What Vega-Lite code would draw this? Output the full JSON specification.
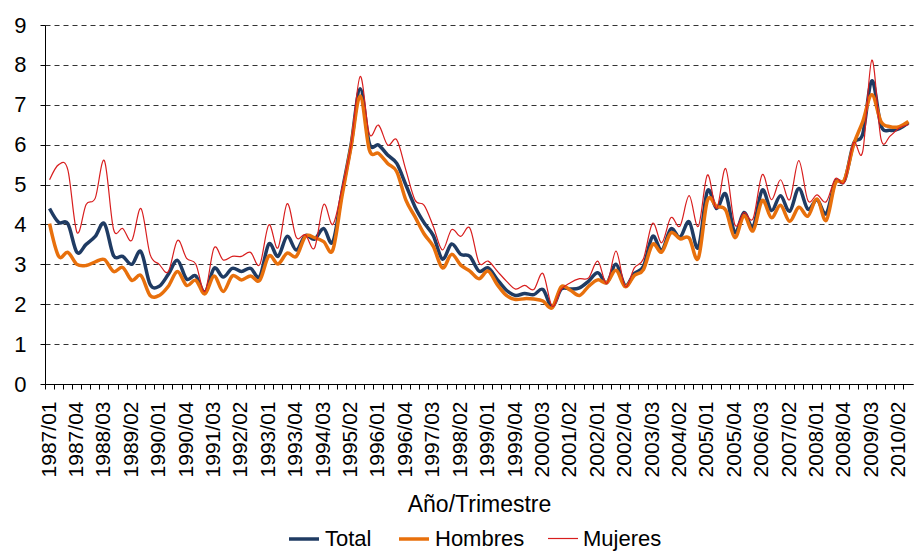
{
  "$schema": "https://vega.github.io/schema/vega-lite/v6.json",
  "width": 868,
  "height": 359,
  "autosize": {"type": "none"},
  "padding": {"left": 45, "top": 25, "right": 2, "bottom": 168},
  "background": "white",
  "data": {
    "values": [
      {"q": "1987/01", "Total": 4.40, "Hombres": 4.02, "Mujeres": 5.12},
      {"q": "1987/02", "Total": 4.05, "Hombres": 3.20, "Mujeres": 5.50},
      {"q": "1987/03", "Total": 4.02, "Hombres": 3.30, "Mujeres": 5.37},
      {"q": "1987/04", "Total": 3.30, "Hombres": 3.00, "Mujeres": 3.80},
      {"q": "1988/01", "Total": 3.50, "Hombres": 2.97, "Mujeres": 4.50},
      {"q": "1988/02", "Total": 3.70, "Hombres": 3.06, "Mujeres": 4.66},
      {"q": "1988/03", "Total": 4.02, "Hombres": 3.12, "Mujeres": 5.60},
      {"q": "1988/04", "Total": 3.22, "Hombres": 2.82, "Mujeres": 3.88},
      {"q": "1989/01", "Total": 3.20, "Hombres": 2.92, "Mujeres": 3.90},
      {"q": "1989/02", "Total": 3.00, "Hombres": 2.60, "Mujeres": 3.60},
      {"q": "1989/03", "Total": 3.32, "Hombres": 2.72, "Mujeres": 4.40},
      {"q": "1989/04", "Total": 2.50, "Hombres": 2.22, "Mujeres": 3.25},
      {"q": "1990/01", "Total": 2.45, "Hombres": 2.22, "Mujeres": 3.00},
      {"q": "1990/02", "Total": 2.75, "Hombres": 2.45, "Mujeres": 2.82},
      {"q": "1990/03", "Total": 3.10, "Hombres": 2.82, "Mujeres": 3.60},
      {"q": "1990/04", "Total": 2.63, "Hombres": 2.47, "Mujeres": 3.15},
      {"q": "1991/01", "Total": 2.71, "Hombres": 2.60, "Mujeres": 3.01},
      {"q": "1991/02", "Total": 2.29, "Hombres": 2.26, "Mujeres": 2.32},
      {"q": "1991/03", "Total": 2.90, "Hombres": 2.71, "Mujeres": 3.41},
      {"q": "1991/04", "Total": 2.68, "Hombres": 2.32, "Mujeres": 3.11},
      {"q": "1992/01", "Total": 2.90, "Hombres": 2.71, "Mujeres": 3.20},
      {"q": "1992/02", "Total": 2.82, "Hombres": 2.61, "Mujeres": 3.20},
      {"q": "1992/03", "Total": 2.90, "Hombres": 2.71, "Mujeres": 3.30},
      {"q": "1992/04", "Total": 2.69, "Hombres": 2.60, "Mujeres": 2.99},
      {"q": "1993/01", "Total": 3.51, "Hombres": 3.21, "Mujeres": 3.99},
      {"q": "1993/02", "Total": 3.20, "Hombres": 3.01, "Mujeres": 3.41},
      {"q": "1993/03", "Total": 3.70, "Hombres": 3.28, "Mujeres": 4.52},
      {"q": "1993/04", "Total": 3.36, "Hombres": 3.20, "Mujeres": 3.68},
      {"q": "1994/01", "Total": 3.72, "Hombres": 3.70, "Mujeres": 3.74},
      {"q": "1994/02", "Total": 3.63, "Hombres": 3.67, "Mujeres": 3.41},
      {"q": "1994/03", "Total": 3.90, "Hombres": 3.57, "Mujeres": 4.50},
      {"q": "1994/04", "Total": 3.56, "Hombres": 3.36, "Mujeres": 4.00},
      {"q": "1995/01", "Total": 4.80, "Hombres": 4.70, "Mujeres": 4.90},
      {"q": "1995/02", "Total": 6.00, "Hombres": 5.95, "Mujeres": 6.00},
      {"q": "1995/03", "Total": 7.40, "Hombres": 7.22, "Mujeres": 7.71},
      {"q": "1995/04", "Total": 6.03, "Hombres": 5.87, "Mujeres": 6.27},
      {"q": "1996/01", "Total": 5.99, "Hombres": 5.78, "Mujeres": 6.49},
      {"q": "1996/02", "Total": 5.74, "Hombres": 5.53, "Mujeres": 5.99},
      {"q": "1996/03", "Total": 5.53, "Hombres": 5.32, "Mujeres": 6.12},
      {"q": "1996/04", "Total": 4.99, "Hombres": 4.61, "Mujeres": 5.36},
      {"q": "1997/01", "Total": 4.44, "Hombres": 4.19, "Mujeres": 4.61},
      {"q": "1997/02", "Total": 4.04, "Hombres": 3.76, "Mujeres": 4.48},
      {"q": "1997/03", "Total": 3.72, "Hombres": 3.45, "Mujeres": 3.95},
      {"q": "1997/04", "Total": 3.13, "Hombres": 2.91, "Mujeres": 3.36},
      {"q": "1998/01", "Total": 3.51, "Hombres": 3.25, "Mujeres": 3.87},
      {"q": "1998/02", "Total": 3.25, "Hombres": 2.98, "Mujeres": 3.70},
      {"q": "1998/03", "Total": 3.20, "Hombres": 2.83, "Mujeres": 3.91},
      {"q": "1998/04", "Total": 2.83, "Hombres": 2.64, "Mujeres": 3.04},
      {"q": "1999/01", "Total": 2.91, "Hombres": 2.83, "Mujeres": 3.08},
      {"q": "1999/02", "Total": 2.62, "Hombres": 2.49, "Mujeres": 2.83},
      {"q": "1999/03", "Total": 2.35, "Hombres": 2.22, "Mujeres": 2.58},
      {"q": "1999/04", "Total": 2.22, "Hombres": 2.12, "Mujeres": 2.38},
      {"q": "2000/01", "Total": 2.27, "Hombres": 2.14, "Mujeres": 2.47},
      {"q": "2000/02", "Total": 2.24, "Hombres": 2.13, "Mujeres": 2.37},
      {"q": "2000/03", "Total": 2.37, "Hombres": 2.08, "Mujeres": 2.77},
      {"q": "2000/04", "Total": 1.93, "Hombres": 1.91, "Mujeres": 1.95},
      {"q": "2001/01", "Total": 2.38, "Hombres": 2.44, "Mujeres": 2.37},
      {"q": "2001/02", "Total": 2.38, "Hombres": 2.35, "Mujeres": 2.54},
      {"q": "2001/03", "Total": 2.41, "Hombres": 2.22, "Mujeres": 2.64},
      {"q": "2001/04", "Total": 2.58, "Hombres": 2.45, "Mujeres": 2.66},
      {"q": "2002/01", "Total": 2.79, "Hombres": 2.61, "Mujeres": 3.08},
      {"q": "2002/02", "Total": 2.54, "Hombres": 2.54, "Mujeres": 2.52},
      {"q": "2002/03", "Total": 3.00, "Hombres": 2.85, "Mujeres": 3.33},
      {"q": "2002/04", "Total": 2.47, "Hombres": 2.44, "Mujeres": 2.44},
      {"q": "2003/01", "Total": 2.77, "Hombres": 2.72, "Mujeres": 2.91},
      {"q": "2003/02", "Total": 2.95, "Hombres": 2.87, "Mujeres": 3.14},
      {"q": "2003/03", "Total": 3.70, "Hombres": 3.50, "Mujeres": 4.03},
      {"q": "2003/04", "Total": 3.35, "Hombres": 3.31, "Mujeres": 3.54},
      {"q": "2004/01", "Total": 3.89, "Hombres": 3.79, "Mujeres": 4.17},
      {"q": "2004/02", "Total": 3.68, "Hombres": 3.64, "Mujeres": 3.96},
      {"q": "2004/03", "Total": 4.07, "Hombres": 3.66, "Mujeres": 4.72},
      {"q": "2004/04", "Total": 3.42, "Hombres": 3.15, "Mujeres": 3.95},
      {"q": "2005/01", "Total": 4.84, "Hombres": 4.60, "Mujeres": 5.24},
      {"q": "2005/02", "Total": 4.40, "Hombres": 4.45, "Mujeres": 4.40},
      {"q": "2005/03", "Total": 4.76, "Hombres": 4.36, "Mujeres": 5.40},
      {"q": "2005/04", "Total": 3.80, "Hombres": 3.67, "Mujeres": 4.00},
      {"q": "2006/01", "Total": 4.30, "Hombres": 4.22, "Mujeres": 4.30},
      {"q": "2006/02", "Total": 3.94, "Hombres": 3.84, "Mujeres": 4.15},
      {"q": "2006/03", "Total": 4.86, "Hombres": 4.60, "Mujeres": 5.25},
      {"q": "2006/04", "Total": 4.35, "Hombres": 4.17, "Mujeres": 4.62},
      {"q": "2007/01", "Total": 4.72, "Hombres": 4.48, "Mujeres": 5.12},
      {"q": "2007/02", "Total": 4.33, "Hombres": 4.08, "Mujeres": 4.62},
      {"q": "2007/03", "Total": 4.90, "Hombres": 4.43, "Mujeres": 5.60},
      {"q": "2007/04", "Total": 4.38, "Hombres": 4.21, "Mujeres": 4.60},
      {"q": "2008/01", "Total": 4.62, "Hombres": 4.64, "Mujeres": 4.74},
      {"q": "2008/02", "Total": 4.27, "Hombres": 4.10, "Mujeres": 4.57},
      {"q": "2008/03", "Total": 5.07, "Hombres": 5.03, "Mujeres": 5.15},
      {"q": "2008/04", "Total": 5.10, "Hombres": 5.12, "Mujeres": 5.06},
      {"q": "2009/01", "Total": 6.03, "Hombres": 6.00, "Mujeres": 6.05},
      {"q": "2009/02", "Total": 6.27, "Hombres": 6.58, "Mujeres": 5.83},
      {"q": "2009/03", "Total": 7.60, "Hombres": 7.25, "Mujeres": 8.12},
      {"q": "2009/04", "Total": 6.48, "Hombres": 6.58, "Mujeres": 6.14},
      {"q": "2010/01", "Total": 6.36, "Hombres": 6.45, "Mujeres": 6.22},
      {"q": "2010/02", "Total": 6.40, "Hombres": 6.45, "Mujeres": 6.42},
      {"q": "2010/03", "Total": 6.55, "Hombres": 6.58, "Mujeres": 6.50}
    ]
  },
  "transform": [{"fold": ["Total", "Hombres", "Mujeres"], "as": ["serie", "valor"]}],
  "layer": [
    {
      "mark": {"type": "line", "interpolate": "cardinal"},
      "encoding": {
        "x": {
          "field": "q",
          "type": "ordinal",
          "sort": null,
          "scale": {"type": "band", "paddingInner": 0, "paddingOuter": 0},
          "axis": {
            "orient": "bottom",
            "values": ["1987/01", "1987/04", "1988/03", "1989/02", "1990/01", "1990/04", "1991/03", "1992/02", "1993/01", "1993/04", "1994/03", "1995/02", "1996/01", "1996/04", "1997/03", "1998/02", "1999/01", "1999/04", "2000/03", "2001/02", "2002/01", "2002/04", "2003/03", "2004/02", "2005/01", "2005/04", "2006/03", "2007/02", "2008/01", "2008/04", "2009/03", "2010/02"],
            "labelAngle": -90,
            "labelFontSize": 21,
            "labelPadding": 17,
            "labelColor": "#000",
            "ticks": false,
            "tickSize": 0,
            "domain": true,
            "domainColor": "#000",
            "domainWidth": 1,
            "grid": false,
            "title": "Año/Trimestre",
            "titleFontSize": 23,
            "titleFontWeight": "normal",
            "titleColor": "#000",
            "titlePadding": 17
          }
        },
        "y": {
          "field": "valor",
          "type": "quantitative",
          "scale": {"domain": [0, 9], "nice": false},
          "axis": {
            "values": [0, 1, 2, 3, 4, 5, 6, 7, 8, 9],
            "title": null,
            "grid": true,
            "gridDash": [5, 4],
            "gridColor": "#333",
            "gridWidth": 1,
            "domainColor": "#000",
            "tickColor": "#000",
            "tickSize": 5,
            "labelFontSize": 22,
            "labelPadding": 14,
            "labelColor": "#000"
          }
        },
        "color": {
          "field": "serie",
          "type": "nominal",
          "title": null,
          "scale": {"domain": ["Total", "Hombres", "Mujeres"], "range": ["#1F3B63", "#E8700C", "#D81E1E"]}
        },
        "strokeWidth": {
          "field": "serie",
          "type": "nominal",
          "title": null,
          "scale": {"type": "ordinal", "domain": ["Total", "Hombres", "Mujeres"], "range": [3.5, 3.5, 1.2]}
        }
      }
    },
    {
      "mark": {"type": "point", "opacity": 0},
      "encoding": {
        "x": {
          "field": "q",
          "type": "ordinal",
          "sort": null,
          "axis": {
            "orient": "bottom",
            "bandPosition": 0,
            "labels": false,
            "ticks": true,
            "tickSize": 5,
            "tickColor": "#000",
            "domain": false,
            "grid": false,
            "title": null
          }
        }
      }
    }
  ],
  "resolve": {"axis": {"x": "independent"}},
  "config": {
    "font": "Liberation Sans",
    "view": {"stroke": null},
    "axis": {"labelFont": "Liberation Sans", "titleFont": "Liberation Sans"},
    "legend": {
      "orient": "none",
      "legendX": 242,
      "legendY": 497,
      "direction": "horizontal",
      "labelFont": "Liberation Sans",
      "labelFontSize": 22,
      "labelColor": "#000",
      "symbolType": "stroke",
      "symbolSize": 900,
      "labelOffset": 4,
      "columnPadding": 20,
      "padding": 0,
      "labelLimit": 0
    }
  }
}
